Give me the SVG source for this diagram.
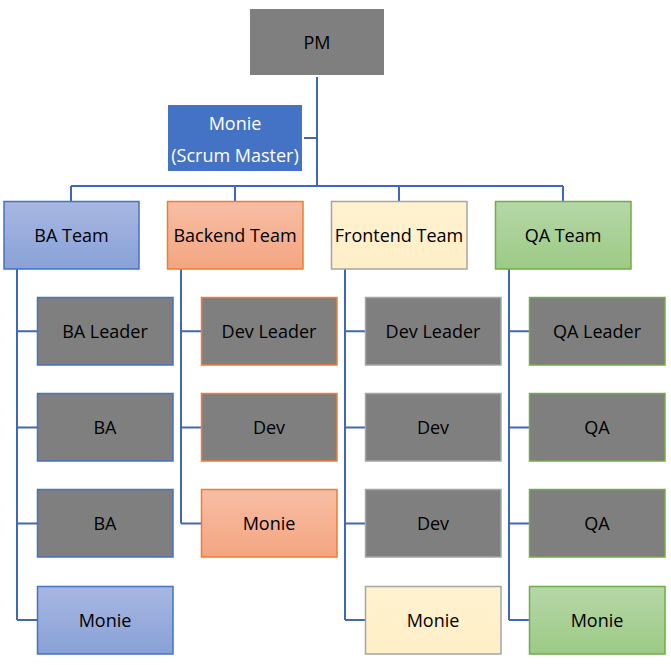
<svg xmlns="http://www.w3.org/2000/svg" width="671" height="665" viewBox="0 0 671 665">
<defs>
<linearGradient id="gBlue" x1="0" y1="0" x2="0" y2="1"><stop offset="0" stop-color="#A8B7E1"/><stop offset="1" stop-color="#88A1D8"/></linearGradient>
<linearGradient id="gOrange" x1="0" y1="0" x2="0" y2="1"><stop offset="0" stop-color="#F7BEA5"/><stop offset="1" stop-color="#F4A580"/></linearGradient>
<linearGradient id="gYellow" x1="0" y1="0" x2="0" y2="1"><stop offset="0" stop-color="#FFF2CF"/><stop offset="1" stop-color="#FFEFC8"/></linearGradient>
<linearGradient id="gGreen" x1="0" y1="0" x2="0" y2="1"><stop offset="0" stop-color="#B6D7A7"/><stop offset="1" stop-color="#9CCA85"/></linearGradient>
</defs>
<style>
text{font-family:"Open Sans","Liberation Sans",sans-serif;font-size:18px;text-anchor:middle;fill:#000}
.grey{fill:#7F7F7F}
.bb{stroke:#4472C4;stroke-width:1.5}
.ob{stroke:#ED7D31;stroke-width:1.5}
.yb{stroke:#A5A5A5;stroke-width:1.5}
.gb{stroke:#70AD47;stroke-width:1.5}
.conn{fill:none;stroke:#4068B8;stroke-width:2}
</style>
<rect width="671" height="665" fill="#fff"/>
<g id="connectors" class="conn">
<path d="M317,77V187"/>
<path d="M304,138H317"/>
<path d="M71,186H563"/>
<path d="M71,186V201M235,186V201M399,186V201M563,186V201"/>
<path d="M17,269V620M17,331.3H37M17,427.5H37M17,523.5H37M17,620H37"/>
<path d="M181,269V523.5M181,331.3H201M181,427.5H201M181,523.5H201"/>
<path d="M345,269V620M345,331.3H365M345,427.5H365M345,523.5H365M345,620H365"/>
<path d="M509,269V620M509,331.3H529M509,427.5H529M509,523.5H529M509,620H529"/>
</g>
<g id="pm"><rect x="250" y="9" width="134" height="66" class="grey"/><text x="317" y="48.5">PM</text></g>
<g id="sm"><rect x="168" y="105" width="134" height="66" fill="#4472C4"/><text x="235" y="130" fill="#fff" style="fill:#fff">Monie</text><text x="235" y="161.5" style="fill:#fff">(Scrum Master)</text></g>
<g id="ba-team"><rect x="4" y="201.5" width="135" height="67.5" fill="url(#gBlue)" class="bb"/><text x="71.5" y="241.5">BA Team</text></g>
<g id="backend-team"><rect x="167.5" y="201.5" width="135.5" height="67.5" fill="url(#gOrange)" class="ob"/><text x="235" y="241.5">Backend Team</text></g>
<g id="frontend-team"><rect x="331.5" y="201.5" width="135.5" height="67.5" fill="url(#gYellow)" class="yb"/><text x="399" y="241.5">Frontend Team</text></g>
<g id="qa-team"><rect x="495.5" y="201.5" width="135.5" height="67.5" fill="url(#gGreen)" class="gb"/><text x="563" y="241.5">QA Team</text></g>

<g id="ba-leader"><rect x="37.5" y="297.5" width="135.5" height="67.5" class="grey bb"/><text x="105" y="338">BA Leader</text></g>
<g id="ba-1"><rect x="37.5" y="393.5" width="135.5" height="67.5" class="grey bb"/><text x="105" y="434">BA</text></g>
<g id="ba-2"><rect x="37.5" y="489.5" width="135.5" height="67.5" class="grey bb"/><text x="105" y="530">BA</text></g>
<g id="ba-monie"><rect x="37.5" y="586.5" width="135.5" height="67.5" fill="url(#gBlue)" class="bb"/><text x="105" y="626.5">Monie</text></g>

<g id="be-leader"><rect x="201.5" y="297.5" width="135.5" height="67.5" class="grey ob"/><text x="269" y="338">Dev Leader</text></g>
<g id="be-dev"><rect x="201.5" y="393.5" width="135.5" height="67.5" class="grey ob"/><text x="269" y="434">Dev</text></g>
<g id="be-monie"><rect x="201.5" y="489.5" width="135.5" height="67.5" fill="url(#gOrange)" class="ob"/><text x="269" y="530">Monie</text></g>

<g id="fe-leader"><rect x="365.5" y="297.5" width="135.5" height="67.5" class="grey yb"/><text x="433" y="338">Dev Leader</text></g>
<g id="fe-dev1"><rect x="365.5" y="393.5" width="135.5" height="67.5" class="grey yb"/><text x="433" y="434">Dev</text></g>
<g id="fe-dev2"><rect x="365.5" y="489.5" width="135.5" height="67.5" class="grey yb"/><text x="433" y="530">Dev</text></g>
<g id="fe-monie"><rect x="365.5" y="586.5" width="135.5" height="67.5" fill="url(#gYellow)" class="yb"/><text x="433" y="626.5">Monie</text></g>

<g id="qa-leader"><rect x="529.5" y="297.5" width="135.5" height="67.5" class="grey gb"/><text x="597" y="338">QA Leader</text></g>
<g id="qa-1"><rect x="529.5" y="393.5" width="135.5" height="67.5" class="grey gb"/><text x="597" y="434">QA</text></g>
<g id="qa-2"><rect x="529.5" y="489.5" width="135.5" height="67.5" class="grey gb"/><text x="597" y="530">QA</text></g>
<g id="qa-monie"><rect x="529.5" y="586.5" width="135.5" height="67.5" fill="url(#gGreen)" class="gb"/><text x="597" y="626.5">Monie</text></g>
</svg>
